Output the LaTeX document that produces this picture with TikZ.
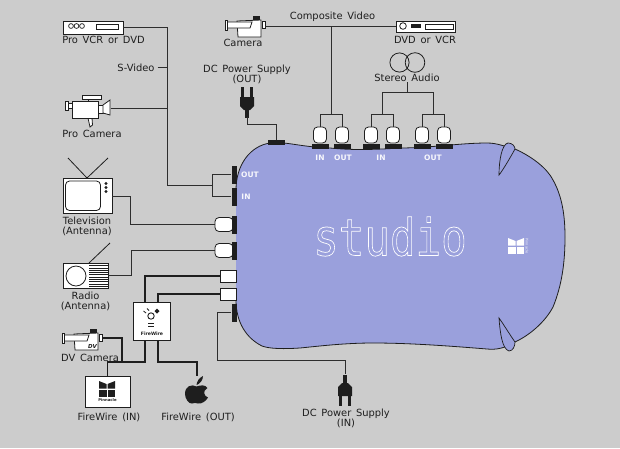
\documentclass[tikz,border=0pt]{standalone}
\usepackage{fontspec}
\setmainfont[WordSpace=1.5]{DejaVu Sans}
\newfontfamily\monofam{DejaVu Sans Mono}
\definecolor{bgc}{RGB}{204,204,204}
\definecolor{bodyc}{RGB}{154,160,220}
\definecolor{ink}{RGB}{30,30,30}
\definecolor{wire}{RGB}{45,45,45}
\tikzset{
  lbl/.style={inner sep=0pt,text=ink,font=\fontsize{9.9}{10.5}\selectfont,align=center},
  tag/.style={inner sep=0pt,text=white!92!bodyc,font=\fontsize{7.5}{8}\selectfont\bfseries},
  wirel/.style={draw=wire,line width=0.95pt},
  fwl/.style={draw=ink,line width=1.3pt},
  devbox/.style={draw=ink,fill=white,line width=0.9pt,inner sep=0pt,minimum width=#1},
  blk/.style={fill=ink,inner sep=0pt,minimum width=#1},
  plugv/.style={draw=ink,fill=white,line width=0.8pt,rounded corners=4pt,inner sep=0pt,minimum width=13pt,minimum height=16pt},
  plugh/.style={draw=ink,fill=white,line width=0.8pt,rounded corners=4pt,inner sep=0pt,minimum width=18pt,minimum height=14pt},
  squarep/.style={draw=ink,fill=white,line width=0.8pt,inner sep=0pt,minimum width=16pt,minimum height=12pt},
  anchorbox/.style={inner sep=0pt,minimum width=#1},
  icon/.style={draw=ink,fill=white,line width=0.8pt},
  pics/dvcam/.style={code={
    \fill[ink] (28,0) rectangle (35,4);
    \draw[icon] (12,5) -- (36,4) -- (36,21) -- (13,21) -- cycle;
    \draw[icon] (2,6) -- (27,6) -- (25,12) -- (2,12) -- cycle;
    \draw[icon] (0,4) rectangle (2,14);
    \draw[icon] (37,5) rectangle (40,12);
  }},
  pics/dcplug/.style={code={
    \fill[ink] (-2,-21) rectangle (2,-13);
    \fill[ink] (-3,-13) -- (3,-13) -- (7,-9) -- (7,0) -- (-7,0) -- (-7,-9) -- cycle;
    \fill[ink] (-6,0) rectangle (-3,10);
    \fill[ink] (3,0) rectangle (6,10);
  }},
  pics/mlogo/.style={code={
    \fill[#1] (0,0) -- (7.5,3) -- (7.5,7.5) -- (0,7.5) -- cycle;
    \fill[#1] (8.5,3) -- (16,0) -- (16,7.5) -- (8.5,7.5) -- cycle;
    \fill[#1] (0,8.5) rectangle (7.5,15.5);
    \fill[#1] (8.5,8.5) rectangle (16,15.5);
  }},
}
\begin{document}
\begin{tikzpicture}[x=1pt,y=-1pt]
\useasboundingbox (0,0) rectangle (620,448);
\fill[bgc] (0,0) rectangle (620,448);

% junction coordinates
\coordinate (jS) at (167.5,108.5);
\coordinate (jS2) at (167.5,185.5);
\coordinate (jB) at (212.5,185.5);
\coordinate (jC) at (331.5,26.5);
\coordinate (jC2) at (331.5,114.5);
\coordinate (jA) at (407.5,92.5);
\coordinate (jA1) at (382,114.5);
\coordinate (jA2) at (433,114.5);
\coordinate (jT) at (130.5,224.5);
\coordinate (jR) at (131.5,250.5);
\coordinate (jF) at (145,362);
\coordinate (jH) at (158,340);
\coordinate (jH2) at (158,302);
\coordinate (jM) at (107.5,362);
\coordinate (jD) at (122,362);
\coordinate (jP) at (247,124.5);
\coordinate (jG) at (197,362);
\coordinate (jL) at (217.5,360.5);
\coordinate (jSv) at (167.5,67.5);

% body
\fill[bodyc] (236,190) .. controls (236,165) and (250,146) .. (270,143)
  .. controls (285,141) and (300,147) .. (330,148)
  .. controls (350,150) and (370,150) .. (400,148)
  .. controls (430,148) and (460,143) .. (487,143)
  .. controls (497,143) and (503,146) .. (515,149)
  .. controls (535,158) and (548,170) .. (553,180)
  .. controls (562,196) and (565,215) .. (565,237)
  .. controls (565,262) and (562,285) .. (553,307)
  .. controls (545,322) and (530,335) .. (515,342)
  .. controls (505,348) and (497,350) .. (487,349)
  .. controls (450,346) and (410,343) .. (373,343)
  .. controls (345,343) and (320,346) .. (300,348)
  .. controls (285,349) and (270,349) .. (262,346)
  .. controls (246,338) and (236,322) .. (236,300) -- cycle;
\draw[ink,line width=0.8pt] (236,190) .. controls (236,165) and (250,146) .. (270,143)
  .. controls (285,141) and (300,147) .. (330,148)
  .. controls (350,150) and (370,150) .. (400,148)
  .. controls (430,148) and (460,143) .. (487,143)
  .. controls (497,143) and (503,146) .. (515,149)
  .. controls (535,158) and (548,170) .. (553,180)
  .. controls (562,196) and (565,215) .. (565,237)
  .. controls (565,262) and (562,285) .. (553,307)
  .. controls (545,322) and (530,335) .. (515,342)
  .. controls (505,348) and (497,350) .. (487,349)
  .. controls (450,346) and (410,343) .. (373,343)
  .. controls (345,343) and (320,346) .. (300,348)
  .. controls (285,349) and (270,349) .. (262,346)
  .. controls (246,338) and (236,322) .. (236,300);
% ears
\draw[ink,line width=0.7pt,fill=bodyc] (499,175) .. controls (499,160) and (502,144) .. (508,143)
  .. controls (512,143) and (515,146) .. (515,149) .. controls (510,158) and (503,170) .. (499,175) -- cycle;
\draw[ink,line width=0.7pt,fill=bodyc] (499,318) .. controls (500,332) and (502,349) .. (509,351)
  .. controls (513,351) and (515,346) .. (515,342) .. controls (510,335) and (504,325) .. (499,318) -- cycle;

% studio wordmark
\node[inner sep=0pt,yscale=1.2,transform shape] (studio) at (390,236.5)
  {\monofam\fontsize{42.5}{44}\selectfont\special{pdf:code q 1 Tr 0.6 w 1 1 1 RG}studio\special{pdf:code 0 Tr Q}};
\pic at (508,238) {mlogo=white};
\node[inner sep=0pt,rotate=-90,text=white!85!bodyc,font=\fontsize{3.6}{4}\selectfont] (bodylogo) at (527,246) {Pinnacle};

% devices, left column
\node[devbox=60pt,minimum height=13pt] (vcr) at (93,27.5) {};
\foreach \cx in {71,76.5,82} \draw[ink,line width=0.7pt] (\cx,26) circle (2.4);
\draw[ink,line width=0.8pt] (96,24.5) rectangle (118,29);
\node[lbl] (vcrl) at (103.5,39.5) {Pro VCR or DVD};

\node[lbl] (sv) at (136,67.5) {S-Video};

\node[anchorbox=45pt,minimum height=32pt] (procam) at (88,108.5) {};
\draw[icon] (88,118) -- (92,118) -- (92.5,125) -- (90,127) -- cycle;
\draw[icon] (82,95) rectangle (101,99);
\draw[ink,line width=0.8pt] (88,99) -- (88,101);
\draw[icon] (72,101) rectangle (98,118);
\draw[icon] (68,103) rectangle (72,108);
\draw[icon] (65,101) rectangle (68,110);
\draw[icon] (98,105) rectangle (103,113);
\draw[icon] (103,105) -- (110,100) -- (110,115) -- (103,113) -- cycle;
\node[lbl] (procaml) at (92,133.5) {Pro Camera};

\draw[ink,line width=0.8pt] (87,178) -- (68,158);
\draw[ink,line width=0.8pt] (87,178) -- (108,158);
\node[devbox=49pt,minimum height=35pt] (tv) at (87.5,195.5) {};
\draw[ink,line width=0.8pt,rounded corners=4pt] (65.5,181) rectangle (100.5,210.5);
\foreach \cy in {183.5,187.5,191.5} \fill[ink] (106,\cy) circle (1.6);
\node[lbl] (tvl) at (87,226.5) {Television\\(Antenna)};

\draw[ink,line width=0.8pt] (89,263) -- (110,243);
\node[devbox=45pt,minimum height=25pt] (radio) at (85.5,275.5) {};
\draw[ink,line width=0.8pt] (76,276) circle (10);
\foreach \ry in {265.5,267.8,...,287} \draw[ink,line width=0.6pt] (89,\ry) -- (108,\ry);
\node[lbl] (radiol) at (85.5,301.5) {Radio\\(Antenna)};

\node[anchorbox=41pt,minimum height=22pt] (dvcam) at (82.5,340) {};
\pic at (62,329) {dvcam};
\node[inner sep=0pt,text=ink,font=\fontsize{5.5}{6}\selectfont\bfseries\itshape] (dvt) at (92.5,346) {DV};
\node[lbl] (dvl) at (90,358) {DV Camera};

% firewire
\node[devbox=37pt,minimum height=38pt] (fwbox) at (151.5,321) {};
\draw[ink,line width=0.9pt] (151,316) circle (3.2);
\fill[ink] (157,308.5) -- (159.5,311) -- (157,313.5) -- (154.5,311) -- cycle;
\draw[ink,line width=0.8pt] (143.5,311) -- (146,313) (147,308.5) -- (149,310.5);
\draw[ink,line width=0.8pt] (148,323) -- (154,323) (148,326) -- (154,326);
\node[inner sep=0pt,text=ink,font=\fontsize{4.6}{5}\selectfont\bfseries] (fwt) at (152,334) {FireWire};

\node[devbox=45pt,minimum height=31pt] (fwin) at (107.5,391.5) {};
\pic at (99,381) {mlogo=ink};
\node[inner sep=0pt,text=ink,font=\fontsize{3.8}{4}\selectfont\bfseries] (fwinp) at (107.5,400) {Pinnacle};
\node[lbl] (fwinl) at (109,417) {FireWire (IN)};

\node[anchorbox=24pt,minimum height=28pt] (apple) at (197,390) {};
\fill[ink] (196.5,386.5) .. controls (192,384) and (185,385.5) .. (185,394)
  .. controls (185,399) and (189,404) .. (192,403.5)
  .. controls (194,403) and (196,402.5) .. (198,403.5)
  .. controls (202,404) and (206,401) .. (208,397.5)
  .. controls (204,396) and (202,391) .. (207.5,388)
  .. controls (205,384.5) and (201,385) .. (196.5,386.5) -- cycle;
\fill[ink] (196.5,385) .. controls (197,381) and (199,378) .. (203,376)
  .. controls (203,380) and (200,384) .. (196.5,385) -- cycle;
\node[lbl] (applel) at (198,417) {FireWire (OUT)};

% top devices
\node[anchorbox=40pt,minimum height=21pt] (cam) at (245,26.5) {};
\pic at (225,16) {dvcam};
\node[lbl] (caml) at (243,43) {Camera};
\node[lbl] (compl) at (332.5,17) {Composite Video};
\node[devbox=59pt,minimum height=11pt] (dvd) at (425.5,26.5) {};
\draw[ink,line width=0.8pt] (403,26) circle (3.3);
\fill[ink] (411,24) rectangle (421,28);
\draw[ink,line width=0.8pt] (425,24.5) rectangle (453,29);
\node[lbl] (dvdl) at (425,40) {DVD or VCR};
\node[anchorbox=35pt,minimum height=22pt] (stereo) at (407.5,62) {};
\draw[ink,line width=0.8pt] (399.5,62.5) circle (9.6);
\draw[ink,line width=0.8pt] (415,62.5) circle (9.8);
\node[lbl] (stereol) at (407,78) {Stereo Audio};
\node[lbl] (dcol) at (247,74.5) {DC Power Supply\\(OUT)};
\node[anchorbox=15pt,minimum height=30pt] (dcout) at (247,102) {};
\pic[yscale=-1] at (247,97) {dcplug};
\node[lbl] (dcil) at (346,418.5) {DC Power Supply\\(IN)};
\node[anchorbox=15pt,minimum height=32pt] (dcin) at (345,390) {};
\pic at (345,396) {dcplug};

% top connectors
\foreach \nm/\cx in {tp1/320,tp2/342,tp3/371,tp4/393,tp5/422,tp6/444}{
  \node[plugv] (\nm) at (\cx,135) {};
  \node[blk=17pt,minimum height=5pt] at (\cx,146) {};
}
\node[blk=17pt,minimum height=5pt] (dcport) at (276,142.5) {};

% left connectors
\node[blk=5pt,minimum height=18pt] (svout) at (234,174.5) {};
\node[blk=5pt,minimum height=18pt] (svin) at (234,196.5) {};
\node[plugh] (tvp) at (224,224.5) {};
\node[blk=5pt,minimum height=18pt] at (234,225) {};
\node[plugh] (rap) at (224,250.5) {};
\node[blk=5pt,minimum height=18pt] at (234,251) {};
\node[squarep] (fw1) at (228.5,276) {};
\node[squarep] (fw2) at (228.5,294) {};
\node[blk=5pt,minimum height=18pt] (dcinp) at (234,312.5) {};

% connectors
\draw[wirel] (vcr.east) -| (jSv) -- (jS2) -- (jB);
\draw[wirel] (sv.east)++(3,0) -- (jSv);
\draw[wirel] (procam.east) -- (jS);
\draw[wirel] (jB) |- (svout.west);
\draw[wirel] (jB) |- (svin.west);
\draw[wirel] (tv.east |- jT) ++(0,-28) -| (jT) -- (tvp.west);
\draw[wirel] (radio.east) -| (jR) -- (rap.west);
\draw[wirel] (cam.east) -- (dvd.west);
\draw[wirel] (jC) -- (jC2);
\draw[wirel] (tp1.north) |- (jC2) -| (tp2.north);
\draw[wirel] (stereo.south |- stereol.south) -- (jA);
\draw[wirel] (jA1) |- (jA) -| (jA2);
\draw[wirel] (tp3.north) |- (jA1) -| (tp4.north);
\draw[wirel] (tp5.north) |- (jA2) -| (tp6.north);
\draw[wirel] (dcout.south) |- (jP) -| (dcport.north);
\draw[wirel] (dcinp.west) -| (jL) -| (dcin.north);
\draw[fwl] (fwbox.north -| jF) |- (fw1.west);
\draw[fwl] (jH2) |- (fw2.west);
\draw[fwl] (fwbox.south -| jF) |- (jM) -- (fwin.north);
\draw[fwl] (dvcam.east |- jD) ++(0,-24) -| (jD);
\draw[fwl] (jH) |- (jG) -- (apple.north);

% tags
\node[tag] (t1) at (320,158) {IN};
\node[tag] (t2) at (343,158) {OUT};
\node[tag] (t3) at (381,158) {IN};
\node[tag] (t4) at (433,158) {OUT};
\node[tag] (t5) at (250,175) {OUT};
\node[tag] (t6) at (246,197) {IN};
\end{tikzpicture}
\end{document}
